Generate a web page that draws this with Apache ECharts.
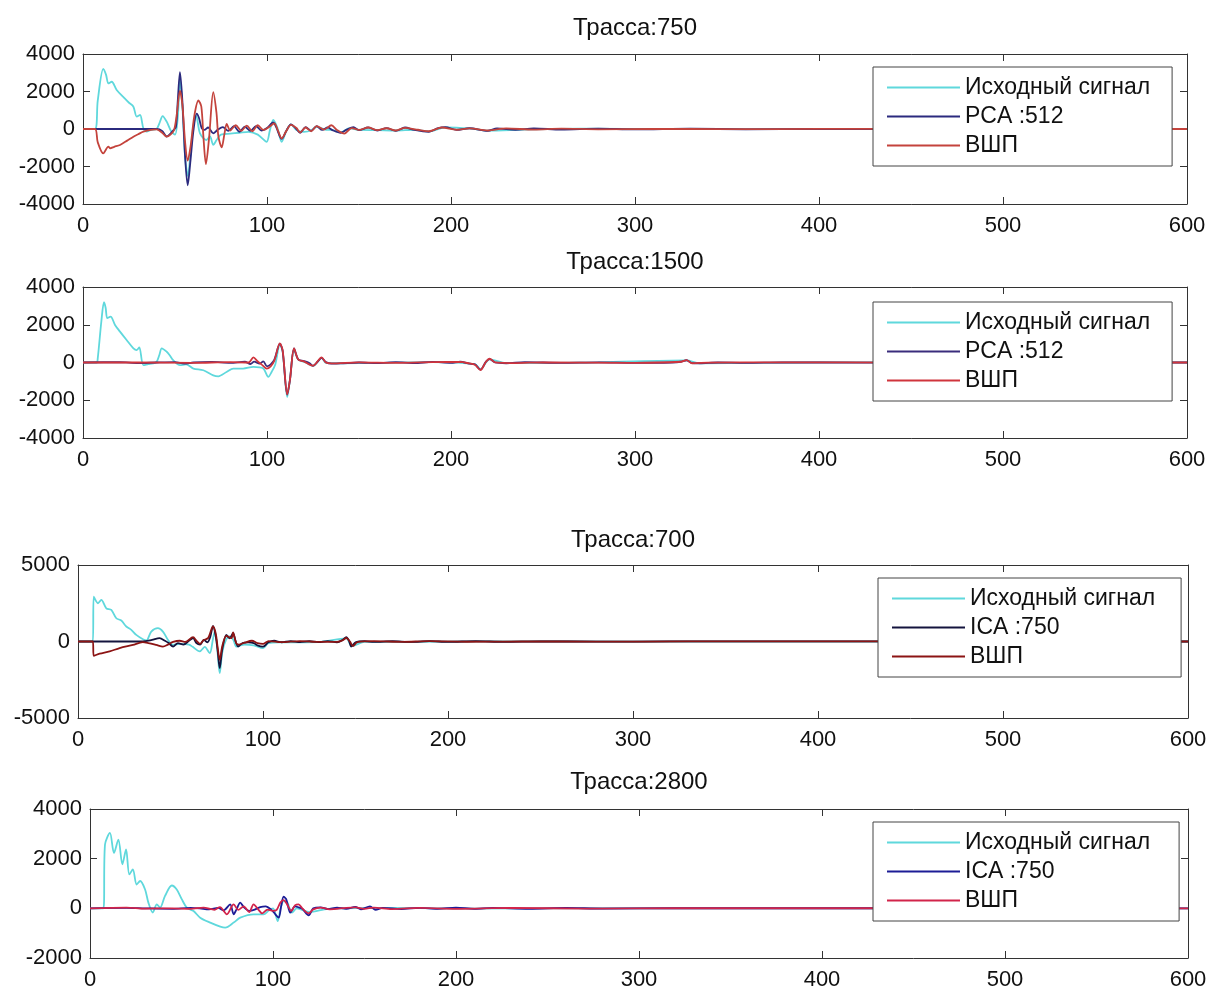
<!DOCTYPE html>
<html>
<head>
<meta charset="utf-8">
<script src="https://cdn.jsdelivr.net/npm/echarts@6/dist/echarts.min.js"></script>
<style>
  html, body { margin: 0; padding: 0; background: #fff; }
  #chart { width: 1216px; height: 991px; }
</style>
</head>
<body>
<div id="chart"></div>
<script>
  // Трасса:750
  const src750 = [[0,0],[6.5,0],[8,1500],[11,3200],[12.5,2900],[13.8,2430],[15.6,2520],[18.3,2080],[22,1700],[25,1400],[27.4,1190],[29.2,660],[31,750],[32.8,40],[34.6,-140],[37,-50],[40,0],[41.5,300],[43.3,690],[45.5,390],[48,-140],[50,-300],[51.5,600],[52.7,2600],[54,1200],[55.5,-1500],[57,-2500],[58.5,-1200],[60,200],[61.5,700],[63.6,-230],[67,-590],[69,-400],[70.8,-850],[72.6,-590],[75,-300],[80,-250],[85,-200],[90,-150],[95,-300],[99.8,-680],[101.5,-100],[103.4,480],[105.5,100],[108,-680],[110.5,-100],[113,250],[116,-50],[120,-150],[124,-80],[127,120],[132,-40],[136,-60],[140,-180],[145,40],[150,-50],[160,-60],[170,-80],[180,-40],[188,-130],[197,90],[210,30],[220,-90],[240,-30],[270,20],[320,-10],[400,5],[600,0]]
  const pca750 = [[0,0],[40,0],[43,-100],[45.5,-400],[47,-300],[49,-80],[50.5,100],[51.5,1500],[52.7,3030],[54,1500],[55.5,-1500],[56.9,-3000],[58.3,-1800],[60,-100],[61.8,820],[63,600],[64.5,50],[66,-50],[68,80],[70.8,-230],[73,-60],[76,100],[79,-100],[82,150],[85,-150],[88,120],[91,-100],[94,150],[97,-80],[100,50],[103.4,355],[105,100],[108,-530],[110.5,-100],[113,250],[115.5,50],[118,-200],[121,100],[124,-100],[127,150],[130,-50],[133,80],[136,-80],[140,-200],[143,-50],[147,100],[150,-60],[155,80],[160,-80],[165,50],[170,-100],[175,80],[180,-50],[188,-150],[193,50],[197,100],[203,-50],[210,40],[220,-100],[225,30],[235,-40],[245,30],[260,-30],[280,20],[300,-20],[330,15],[360,-15],[400,10],[450,-10],[500,5],[600,0]]
  const vshp750 = [[0,0],[6.5,0],[8,-700],[11,-1300],[13.8,-940],[14.7,-1030],[17,-950],[20.1,-850],[24,-620],[27.4,-410],[30,-280],[32.8,-140],[36,-60],[40,-20],[43,-200],[45.5,-410],[47.5,-300],[49.5,-50],[51,800],[52.7,2050],[54,1300],[55.5,-700],[56.9,-1690],[58.5,-900],[60.5,700],[62.7,1520],[64.3,1200],[65.5,-500],[66.8,-1870],[68.5,-500],[70.8,1960],[72.5,900],[73.6,-410],[75.4,-980],[76.8,-300],[78.1,270],[80,-80],[83,200],[86,-100],[89,180],[92,-120],[95,200],[98,-50],[101,100],[104,300],[106,-100],[108,-500],[110.5,-100],[113,220],[116,50],[118,-180],[121,80],[124,-120],[127,150],[131,-30],[135,200],[138,-50],[142,-250],[146,50],[150,-50],[155,80],[160,-60],[165,40],[170,-80],[175,60],[182,-40],[188,-120],[195,80],[203,-40],[210,30],[220,-80],[230,30],[245,-30],[260,20],[280,-15],[310,10],[350,-10],[400,5],[600,0]]

  // Трасса:1500
  const src1500 = [[0,0],[7.4,0],[8,210],[10,2200],[11.4,3200],[12.3,2900],[13.2,2350],[15,2435],[17.4,1990],[20,1650],[23.7,1190],[27.4,750],[29.2,660],[30.6,800],[32.8,-140],[35.5,-90],[38,-50],[40,35],[41.5,400],[42.8,750],[45.5,570],[47,400],[49,125],[52.7,-140],[56,-100],[60,-320],[65.4,-410],[70.8,-680],[73.6,-730],[78,-500],[81.7,-320],[87,-320],[92.6,-230],[98,-320],[100.7,-760],[102.5,-500],[104.5,-100],[107,950],[108.5,600],[111,-1830],[112.5,-900],[114.7,700],[117,160],[121,0],[125,-180],[129.7,250],[132,-20],[140,-40],[160,-20],[190,20],[213,-90],[216,-360],[221,170],[230,-30],[280,10],[328,110],[335,-40],[400,5],[600,0]]
  const pca1500 = [[0,0],[20,20],[30,-30],[40,0],[50,20],[55,-60],[60,0],[70,30],[80,-20],[88,40],[91,-80],[93,50],[96,-60],[98,60],[100,-200],[102,-100],[104,150],[107,1000],[108.5,600],[111,-1700],[112.5,-900],[114.7,750],[117,160],[120,80],[123,-30],[125,-180],[127.5,40],[129.7,250],[132,20],[135,-60],[140,-50],[150,0],[160,-30],[170,20],[180,-30],[190,30],[200,-20],[205,40],[210,-60],[213,-100],[216,-380],[219,50],[221,180],[224,0],[230,-40],[240,20],[260,-20],[280,10],[300,-20],[320,0],[325,40],[328,120],[331,-30],[335,-50],[345,0],[360,-20],[380,10],[420,-10],[460,5],[600,0]]
  const vshp1500 = [[0,0],[30,0],[60,-20],[80,20],[90,0],[92.6,270],[95,50],[97,-100],[99.8,-320],[102,-200],[104,100],[107,1010],[108.5,650],[111,-1690],[112.5,-900],[114.7,750],[117,160],[120,60],[125,-170],[129.7,270],[132,0],[135,-50],[150,10],[170,-20],[190,20],[205,30],[210,-50],[213,-120],[216,-400],[219,40],[221,200],[224,10],[235,-30],[250,10],[300,-20],[325,40],[328,130],[331,-40],[340,-10],[380,10],[450,-5],[600,0]]

  // Трасса:700
  const src700 = [[0,0],[8,0],[8.5,2935],[10.8,2500],[12.6,2720],[15.3,2170],[18,2065],[20.7,1520],[23.4,1370],[26.1,980],[28.8,760],[31.5,435],[35.1,150],[37,80],[39.6,650],[43.2,870],[45.9,650],[48.6,110],[51.4,-220],[55,-150],[60,-200],[62,-350],[65.8,-650],[68.5,-350],[71.2,-760],[73,200],[74,700],[75.5,-800],[76.6,-2065],[78,-700],[80,100],[82,330],[84,100],[85.6,-330],[90,-200],[95,-250],[100,-430],[103,-100],[110,-60],[120,-50],[130,-40],[145,200],[148,-300],[155,-20],[180,-20],[220,10],[300,-5],[600,0]]
  const ica700 = [[0,0],[35,0],[40,100],[44.1,220],[47,50],[49,-100],[51.4,-330],[54,-100],[57,-200],[60,50],[62.2,220],[64,-100],[66,-200],[68,100],[70,-50],[71.5,300],[73,1020],[74.5,300],[75.5,-600],[76.6,-1740],[78,-500],[80.2,430],[82,200],[83.8,540],[85,100],[86.5,-330],[89,-100],[92,-60],[95,-100],[97,-250],[100,-330],[103,-50],[106,50],[110,-50],[115,30],[120,-40],[125,20],[130,-40],[135,30],[140,-50],[143,100],[145,280],[146.5,50],[147.7,-330],[150,-50],[155,20],[160,-30],[170,20],[180,-30],[190,20],[200,-20],[215,20],[230,-20],[250,10],[280,-10],[320,5],[600,0]]
  const vshp700 = [[0,0],[8,0],[8.5,-935],[11.7,-800],[17.1,-650],[22.5,-430],[29.7,-220],[35,-45],[38,-100],[42.3,-220],[45.9,-330],[48.6,-200],[51.4,-30],[55,50],[58,-30],[62.2,280],[64,50],[66,-150],[68,100],[70.3,220],[73,980],[74.5,500],[75.5,-400],[76.6,-1200],[78,-300],[80.2,370],[82.9,220],[83.8,590],[85.5,-100],[87,-200],[90,-80],[94,50],[97,-100],[100,-150],[103,30],[110,-40],[120,30],[130,-30],[140,-30],[143,80],[145,230],[147,0],[148.6,-300],[151,-40],[160,20],[175,-20],[190,20],[210,-15],[240,10],[280,-10],[330,5],[600,0]]

  // Трасса:2800
  const src2800 = [[0,0],[7.3,0],[8.2,2570],[10.9,3040],[13.1,2230],[15.5,2770],[17.7,1770],[19.7,2370],[21.5,1365],[23.4,1565],[25.5,960],[27.4,1100],[30.1,760],[31.9,230],[34.3,-170],[36.5,160],[38.3,30],[41,500],[44.7,920],[47.4,760],[50.2,360],[52.9,30],[56.6,-110],[60.2,-375],[65.7,-575],[71.2,-735],[73.9,-775],[78.5,-575],[82.1,-375],[89.4,-240],[94.9,-240],[97.5,-100],[100,0],[102.6,-510],[104,-50],[105.8,295],[107.7,250],[110.4,-175],[113,0],[120,-150],[130,-20],[160,20],[200,-10],[300,5],[600,0]]
  const ica2800 = [[0,0],[20,20],[30,0],[45,-20],[55,20],[60,0],[65,-40],[70,20],[73,-80],[76.6,160],[78.5,-240],[80,-50],[82.1,230],[84,50],[87,-100],[90,-50],[93,50],[96,80],[99,-50],[101.3,-240],[103.1,-375],[104.5,100],[105.8,470],[107.2,370],[109.5,-175],[112,80],[114,40],[116,-20],[119.5,-280],[122,0],[126,40],[130,-30],[135,30],[140,-20],[145,60],[148,-40],[153,80],[156,-60],[160,20],[170,-30],[180,20],[190,-20],[200,30],[210,-20],[220,20],[240,-20],[260,15],[280,-10],[320,5],[600,0]]
  const vshp2800 = [[0,0],[20,30],[30,-10],[45,0],[55,-20],[62,30],[68,-60],[71,50],[74.8,-240],[78.5,160],[81,-60],[84,80],[87,-150],[89.4,160],[92,-50],[94,-200],[97,-50],[100,-100],[102,-60],[104,230],[105.8,330],[107.7,160],[110,-100],[112,120],[114,160],[116,0],[119.5,-200],[122,-40],[126,30],[131,-40],[140,20],[145,40],[150,-20],[155,30],[165,-30],[180,20],[200,-20],[230,15],[270,-10],[320,5],[600,0]]

  const titles = ['Трасса:750', 'Трасса:1500', 'Трасса:700', 'Трасса:2800']
  const names = [
    ['Исходный сигнал', 'PCA :512', 'ВШП'],
    ['Исходный сигнал', 'PCA :512', 'ВШП'],
    ['Исходный сигнал', 'ICA :750', 'ВШП'],
    ['Исходный сигнал', 'ICA :750', 'ВШП']
  ]
  const yRanges = [[-4000, 4000, 2000], [-4000, 4000, 2000], [-5000, 5000, 5000], [-2000, 4000, 2000]]
  const seriesData = [
    [src750, pca750, vshp750],
    [src1500, pca1500, vshp1500],
    [src700, ica700, vshp700],
    [src2800, ica2800, vshp2800]
  ]

  const FONT = 'Liberation Sans, Arial, Helvetica, sans-serif'
  const grids = [
    { left: 83, top: 54, width: 1104, height: 150 },
    { left: 83, top: 287, width: 1104, height: 151 },
    { left: 78, top: 565, width: 1110, height: 153 },
    { left: 90, top: 809, width: 1098, height: 151 }
  ]
  const titleY = [28, 262, 540, 782]
  const legendPos = [[873, 67], [873, 302], [878, 578], [873, 822]]
  const legendPadRight = [22, 22, 26, 29]
  const colors = [
    ['#5fd8dc', '#2b2a7e', '#c4433c'],
    ['#5fd8dc', '#3a2c7c', '#d0343c'],
    ['#5fd8dc', '#14143e', '#8c1414'],
    ['#5fd8dc', '#1c1c96', '#d2244a']
  ]

  // 四周框线 + 向内刻度
  function axisCommon(show, margin) {
    return {
      axisLine: { show: true, onZero: false, lineStyle: { color: '#333', width: 1 } },
      axisTick: { show: true, inside: true, length: 7, lineStyle: { color: '#333' } },
      axisLabel: {
        show: show,
        color: '#111',
        fontSize: 22,
        fontFamily: FONT,
        margin: margin || 8,
        formatter: v => String(v)
      },
      splitLine: { show: false }
    }
  }

  let xAxes = []
  let yAxes = []
  let series = []
  let legends = []
  let graphics = []

  grids.forEach((g, i) => {
    let r = yRanges[i]
    xAxes.push(Object.assign({ type: 'value', gridIndex: i, min: 0, max: 600, interval: 100, position: 'bottom' }, axisCommon(true, 11)))
    xAxes.push(Object.assign({ type: 'value', gridIndex: i, min: 0, max: 600, interval: 100, position: 'top' }, axisCommon(false)))
    yAxes.push(Object.assign({ type: 'value', gridIndex: i, min: r[0], max: r[1], interval: r[2], position: 'left' }, axisCommon(true, 8)))
    yAxes.push(Object.assign({ type: 'value', gridIndex: i, min: r[0], max: r[1], interval: r[2], position: 'right' }, axisCommon(false)))

    let legendData = []
    seriesData[i].forEach((d, k) => {
      let name = names[i][k] + '#' + i
      legendData.push(name)
      series.push({
        type: 'line',
        name: name,
        xAxisIndex: i * 2,
        yAxisIndex: i * 2,
        data: d,
        symbol: 'none',
        showSymbol: false,
        smooth: 0.3,
        lineStyle: { color: colors[i][k], width: 1.8 },
        itemStyle: { color: colors[i][k] },
        z: 2
      })
    })

    legends.push({
      data: legendData,
      orient: 'vertical',
      left: legendPos[i][0],
      top: legendPos[i][1],
      z: 20,
      backgroundColor: '#fff',
      borderColor: '#444',
      borderWidth: 1,
      padding: [8, legendPadRight[i], 8, 14],
      icon: 'rect',
      itemWidth: 73,
      itemHeight: 2,
      itemGap: 4,
      selectedMode: false,
      formatter: name => name.split('#')[0],
      textStyle: { color: '#111', fontSize: 23, fontFamily: FONT, lineHeight: 25 }
    })

    graphics.push({
      type: 'text',
      x: g.left + g.width / 2,
      y: titleY[i],
      style: {
        text: titles[i],
        fill: '#111',
        font: '24px ' + FONT,
        textAlign: 'center',
        textVerticalAlign: 'middle'
      }
    })
  })

  let myChart = echarts.init(document.getElementById('chart'))
  myChart.setOption({
    animation: false,
    backgroundColor: '#fff',
    grid: grids,
    xAxis: xAxes,
    yAxis: yAxes,
    legend: legends,
    graphic: graphics,
    series: series
  })
</script>
</body>
</html>
